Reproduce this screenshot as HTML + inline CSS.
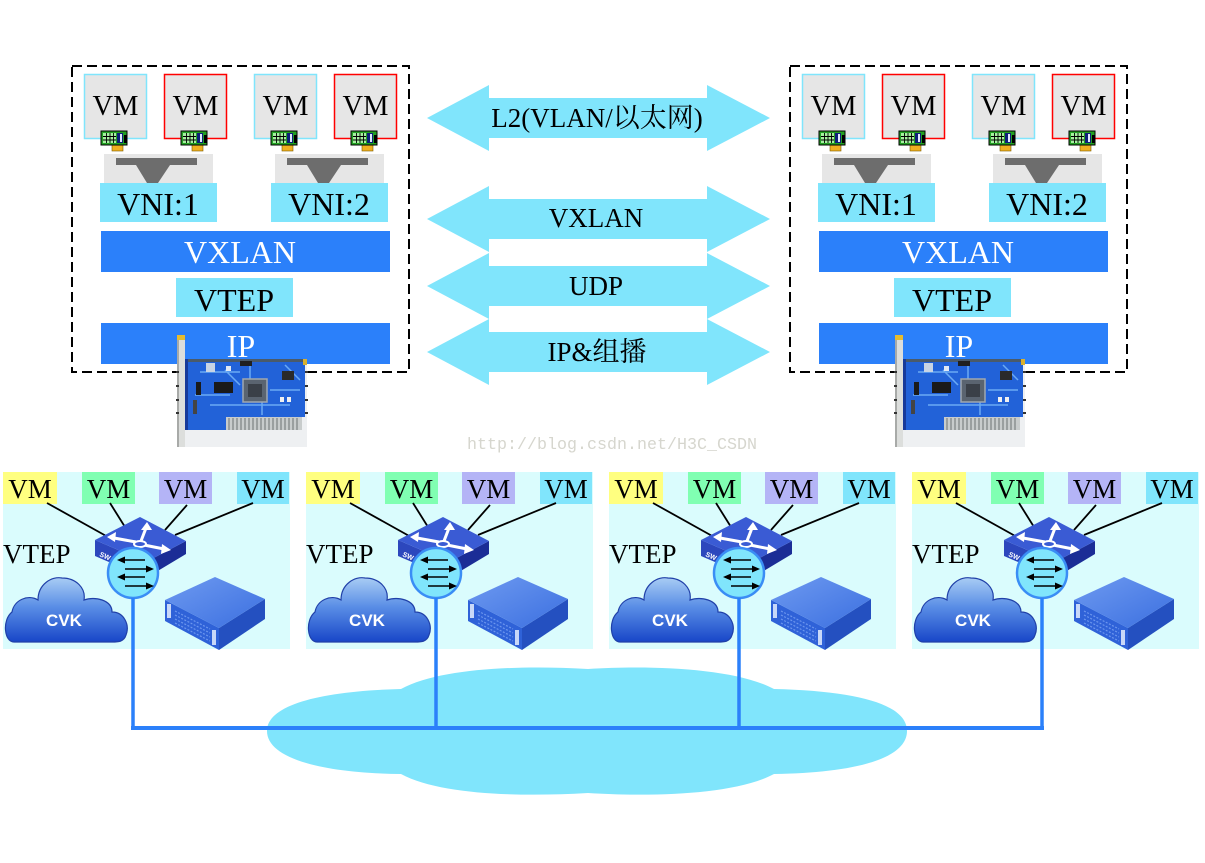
<!DOCTYPE html>
<html>
<head>
<meta charset="utf-8">
<style>
  html,body{margin:0;padding:0;background:#fff;}
  svg{display:block;}
  .serif{font-family:"Liberation Serif","Noto Serif CJK SC",serif;}
  .sans{font-family:"Liberation Sans",sans-serif;}
</style>
</head>
<body>
<svg width="1205" height="863" viewBox="0 0 1205 863" xmlns="http://www.w3.org/2000/svg">
  <defs>
    <linearGradient id="cvkGrad" x1="0" y1="0" x2="0" y2="1">
      <stop offset="0" stop-color="#a8ccf4"/>
      <stop offset="0.45" stop-color="#5a8ee6"/>
      <stop offset="1" stop-color="#1846c8"/>
    </linearGradient>
    <linearGradient id="srvTop" x1="0" y1="0" x2="1" y2="1">
      <stop offset="0" stop-color="#6e9af0"/>
      <stop offset="1" stop-color="#3b6fe0"/>
    </linearGradient>
    <!-- small NIC icon, origin at card top-left -->
    <g id="nicS">
      <rect x="11" y="14" width="11" height="6" fill="#f0b020" stroke="#7a5a00" stroke-width="0.6"/>
      <rect x="0" y="0" width="26" height="14" fill="#22a022" stroke="#000" stroke-width="1"/>
      <rect x="2" y="2" width="13" height="10" fill="#a6f0a0"/>
      <path d="M5.5 2V12M9 2V12M12.5 2V12M2 5.5H15M2 9H15" stroke="#000" stroke-width="0.9"/>
      <rect x="16" y="2" width="6" height="10" fill="#0e1f7a"/>
      <rect x="19" y="3" width="2" height="8" fill="#e0e8ff"/>
      <rect x="23" y="4" width="3" height="8" fill="#000"/>
    </g>
    <!-- gray V switch box -->
    <g id="vbox">
      <rect x="0" y="0" width="109" height="29" fill="#e6e6e6"/>
      <polygon points="12,4 93,4 93,11 66,11 54,29 43,29 32,11 12,11" fill="#6d6d6d"/>
    </g>
    <!-- big NIC card -->
    <g id="nicBig">
      <rect x="185" y="359" width="122" height="88" fill="#eef0f2"/>
      <rect x="185" y="359" width="120" height="58" fill="#2262d8"/>
      <rect x="185" y="417" width="41" height="13" fill="#2262d8"/>
      <rect x="185" y="359" width="120" height="3" fill="#4a5a6a"/>
      <rect x="185" y="359" width="3" height="71" fill="#173a9a"/>
      <rect x="226" y="417" width="76" height="13" fill="#c8cccc"/>
      <path d="M229 418V430M233 418V430M237 418V430M241 418V430M245 418V430M249 418V430M253 418V430M257 418V430M261 418V430M265 418V430M269 418V430M273 418V430M277 418V430M281 418V430M285 418V430M289 418V430M293 418V430M297 418V430" stroke="#8a9090" stroke-width="1.5"/>
      <path d="M200 372H240M210 405H290M250 365V380M262 402V415M270 390H300M195 395H230M285 365L300 380M225 370L240 385" stroke="#6aaaf4" stroke-width="1.5" fill="none"/>
      <rect x="243" y="379" width="24" height="23" fill="#5a6470" stroke="#a0a8b0" stroke-width="1.5"/>
      <rect x="248" y="384" width="14" height="13" fill="#3a4048"/>
      <rect x="214" y="382" width="19" height="11" fill="#1a1a1a"/>
      <rect x="196" y="382" width="5" height="13" fill="#1a1a1a"/>
      <rect x="206" y="363" width="9" height="9" fill="#c8d4e4"/>
      <rect x="226" y="366" width="5" height="5" fill="#e0e8f4"/>
      <rect x="240" y="361" width="12" height="5" fill="#202020"/>
      <rect x="282" y="371" width="12" height="9" fill="#2a2a2a"/>
      <rect x="280" y="397" width="4" height="5" fill="#f0f0f0"/>
      <rect x="287" y="397" width="4" height="5" fill="#f0f0f0"/>
      <rect x="193" y="400" width="4" height="14" fill="#444"/>
      <rect x="303" y="359" width="4" height="6" fill="#d8b030"/>
      <rect x="177" y="335" width="8" height="112" fill="#dcdedc"/>
      <rect x="177" y="335" width="2" height="112" fill="#a8aaa8"/>
      <rect x="177" y="335" width="8" height="5" fill="#e6bc30"/>
      <path d="M176 372h3M176 386h3M176 400h3M176 413h3M305 372h3M305 386h3M305 400h3M305 413h3" stroke="#333" stroke-width="2"/>
    </g>
    <!-- bottom switch (panel-1 coords) -->
    <g id="sw">
      <polygon points="95,540 146,562 146,578 95,556" fill="#2c47bd"/>
      <polygon points="146,562 186,541 186,554 146,578" fill="#1b2d96"/>
      <polygon points="95,540 140,517 186,541 146,562" fill="#3a5bd4"/>
      <path d="M114,538 L136,542 M144,545 L164,549 M141,541 L146,528" stroke="#fff" stroke-width="3" fill="none"/>
      <polygon points="107,537 116,532 115,542" fill="#fff"/>
      <polygon points="171,550 162,544 161,554" fill="#fff"/>
      <polygon points="147,522 141,530 152,530" fill="#fff"/>
      <ellipse cx="140" cy="544" rx="6" ry="3" fill="#3a5bd4" stroke="#fff" stroke-width="2"/>
    </g>
    <g id="circ">
      <circle cx="133" cy="573" r="25" fill="#80e5fc" stroke="#3a8df5" stroke-width="2.5"/>
      <path d="M123 560H145M125 569H148M123 577H145M125 586H148" stroke="#000" stroke-width="1.6"/>
      <polygon points="117,560 125,556.5 125,563.5" fill="#000"/>
      <polygon points="154,569 146,565.5 146,572.5" fill="#000"/>
      <polygon points="117,577 125,573.5 125,580.5" fill="#000"/>
      <polygon points="154,586 146,582.5 146,589.5" fill="#000"/>
    </g>
    <g id="srv">
      <polygon points="165,600 219,628 219,650 165,621" fill="#2f62d8"/>
      <polygon points="219,628 265,599 265,619 219,650" fill="#2450c0"/>
      <polygon points="165,600 215,577 265,599 219,628" fill="url(#srvTop)"/>
      <path d="M175,611 L210,629 M175,615 L210,633 M175,619 L210,637 M175,623 L210,641" stroke="#6c96ee" stroke-width="1.2" stroke-dasharray="2,1.5"/>
      <rect x="167" y="604" width="4" height="14" fill="#c8d8f8"/>
      <rect x="212" y="630" width="4" height="15" fill="#c8d8f8"/>
    </g>
    <g id="cvk">
      <path d="M14,642 C4,642 2,620 12,612 C14,600 28,594 38,600 C38,584 52,576 62,578 C76,578 86,588 84,600 C95,596 112,600 112,612 C124,612 130,625 126,635 C124,642 118,642 112,642 Z" fill="url(#cvkGrad)" stroke="#2040a8" stroke-width="1.2"/>
    </g>
  </defs>

  <!-- ================= TOP LEFT STACK ================= -->
  <g id="stackL">
    <rect x="72" y="66" width="337" height="306" fill="none" stroke="#000" stroke-width="2" stroke-dasharray="10,5"/>
    <rect x="84.5" y="74.5" width="62" height="64" fill="#e6e6e6" stroke="#80e5fc" stroke-width="1.5"/>
    <rect x="164.5" y="74.5" width="62" height="64" fill="#e6e6e6" stroke="#ff0000" stroke-width="1.5"/>
    <rect x="254.5" y="74.5" width="62" height="64" fill="#e6e6e6" stroke="#80e5fc" stroke-width="1.5"/>
    <rect x="334.5" y="74.5" width="62" height="64" fill="#e6e6e6" stroke="#ff0000" stroke-width="1.5"/>
    <use href="#nicS" x="101" y="131"/>
    <use href="#nicS" x="181" y="131"/>
    <use href="#nicS" x="271" y="131"/>
    <use href="#nicS" x="351" y="131"/>
    <use href="#vbox" x="104" y="154"/>
    <use href="#vbox" x="275" y="154"/>
    <rect x="100" y="183" width="117" height="39" fill="#80e5fc"/>
    <rect x="271" y="183" width="117" height="39" fill="#80e5fc"/>
    <rect x="101" y="231" width="289" height="41" fill="#2b80fa"/>
    <rect x="176" y="278" width="117" height="39" fill="#80e5fc"/>
    <rect x="101" y="323" width="289" height="41" fill="#2b80fa"/>
  </g>
  <g class="serif" font-size="28.5" text-anchor="middle" fill="#000">
    <text x="115.5" y="115">VM</text>
    <text x="195.5" y="115">VM</text>
    <text x="285.5" y="115">VM</text>
    <text x="365.5" y="115">VM</text>
  </g>
  <g class="serif" font-size="32" text-anchor="middle">
    <text x="158" y="215" fill="#000">VNI:1</text>
    <text x="329" y="215" fill="#000">VNI:2</text>
    <text x="240" y="263" fill="#fff">VXLAN</text>
    <text x="234" y="311" fill="#000">VTEP</text>
    <text x="241" y="357" fill="#fff">IP</text>
  </g>
  <use href="#nicBig"/>

  <!-- ================= TOP RIGHT STACK ================= -->
  <use href="#stackL" x="718"/>
  <g class="serif" font-size="28.5" text-anchor="middle" fill="#000">
    <text x="833.5" y="115">VM</text>
    <text x="913.5" y="115">VM</text>
    <text x="1003.5" y="115">VM</text>
    <text x="1083.5" y="115">VM</text>
  </g>
  <g class="serif" font-size="32" text-anchor="middle">
    <text x="876" y="215" fill="#000">VNI:1</text>
    <text x="1047" y="215" fill="#000">VNI:2</text>
    <text x="958" y="263" fill="#fff">VXLAN</text>
    <text x="952" y="311" fill="#000">VTEP</text>
    <text x="959" y="357" fill="#fff">IP</text>
  </g>
  <use href="#nicBig" x="718"/>

  <!-- ================= DOUBLE ARROWS ================= -->
  <g fill="#80e5fc">
    <polygon points="427,118 489,85 489,98 707,98 707,85 770,118 707,151 707,138 489,138 489,151"/>
    <polygon points="427,219 489,186 489,199 707,199 707,186 770,219 707,252 707,239 489,239 489,252"/>
    <polygon points="427,286 489,253 489,266 707,266 707,253 770,286 707,319 707,306 489,306 489,319"/>
    <polygon points="427,352 489,319 489,332 707,332 707,319 770,352 707,385 707,372 489,372 489,385"/>
  </g>
  <g class="serif" font-size="27" text-anchor="middle" fill="#000">
    <text x="597" y="127">L2(VLAN/以太网)</text>
    <text x="596" y="227">VXLAN</text>
    <text x="596" y="295">UDP</text>
    <text x="597" y="361">IP&amp;组播</text>
  </g>

  <!-- watermark -->
  <text x="467" y="449" font-family="Liberation Mono, monospace" font-size="16.6" fill="#d6d6ce" textLength="290" lengthAdjust="spacingAndGlyphs">http://blog.csdn.net/H3C_CSDN</text>

  <!-- ================= BOTTOM CLOUD & BUS ================= -->
  <path d="M401,689 C440,668 520,665 588,669 C650,665 735,668 774,689 C860,691 907,705 907,731 C907,760 850,773 774,774 C735,795 650,797 588,793 C520,797 440,795 401,774 C320,773 267,758 267,731 C267,705 320,691 401,689 Z" fill="#80e5fc"/>

  <!-- ================= BOTTOM PANELS ================= -->
  <g id="panelShapes">
    <rect x="3" y="472" width="287" height="177" fill="#dafcfd"/>
    <rect x="3" y="472" width="54" height="32" fill="#ffff80"/>
    <rect x="82" y="472" width="53" height="32" fill="#80ffb2"/>
    <rect x="159" y="472" width="53" height="32" fill="#b4b4f6"/>
    <rect x="237" y="472" width="52" height="32" fill="#80e5fc"/>
    <path d="M47,503 L108,537 M110,503 L125,527 M187,505 L165,530 M253,503 L175,535" stroke="#000" stroke-width="1.8"/>
    <use href="#cvk"/>
    <use href="#srv"/>
    <use href="#sw"/>
    <use href="#circ"/>
  </g>
  <use href="#panelShapes" x="303"/>
  <use href="#panelShapes" x="606"/>
  <use href="#panelShapes" x="909"/>

  <!-- bus lines -->
  <path d="M133,598 V728 M436,598 V728 M739,598 V728 M1042,598 V728" stroke="#2b80fa" stroke-width="3.5" fill="none"/>
  <path d="M131,728 H1044" stroke="#2b80fa" stroke-width="4"/>

  <!-- bottom panel texts -->
  <g class="serif" font-size="27" fill="#000">
    <g text-anchor="middle">
      <text x="30" y="498">VM</text><text x="108.5" y="498">VM</text><text x="185.5" y="498">VM</text><text x="263" y="498">VM</text>
      <text x="333" y="498">VM</text><text x="411.5" y="498">VM</text><text x="488.5" y="498">VM</text><text x="566" y="498">VM</text>
      <text x="636" y="498">VM</text><text x="714.5" y="498">VM</text><text x="791.5" y="498">VM</text><text x="869" y="498">VM</text>
      <text x="939" y="498">VM</text><text x="1017.5" y="498">VM</text><text x="1094.5" y="498">VM</text><text x="1172" y="498">VM</text>
    </g>
    <text x="3" y="563">VTEP</text>
    <text x="306" y="563">VTEP</text>
    <text x="609" y="563">VTEP</text>
    <text x="912" y="563">VTEP</text>
  </g>
  <g class="sans" font-size="17" font-weight="bold" fill="#fff" text-anchor="middle">
    <text x="64" y="626">CVK</text>
    <text x="367" y="626">CVK</text>
    <text x="670" y="626">CVK</text>
    <text x="973" y="626">CVK</text>
  </g>
  <g class="sans" font-size="7" font-weight="bold" fill="#fff">
    <text x="99" y="556" transform="rotate(24 99 556)">SW</text>
    <text x="402" y="556" transform="rotate(24 402 556)">SW</text>
    <text x="705" y="556" transform="rotate(24 705 556)">SW</text>
    <text x="1008" y="556" transform="rotate(24 1008 556)">SW</text>
  </g>
</svg>
</body>
</html>
